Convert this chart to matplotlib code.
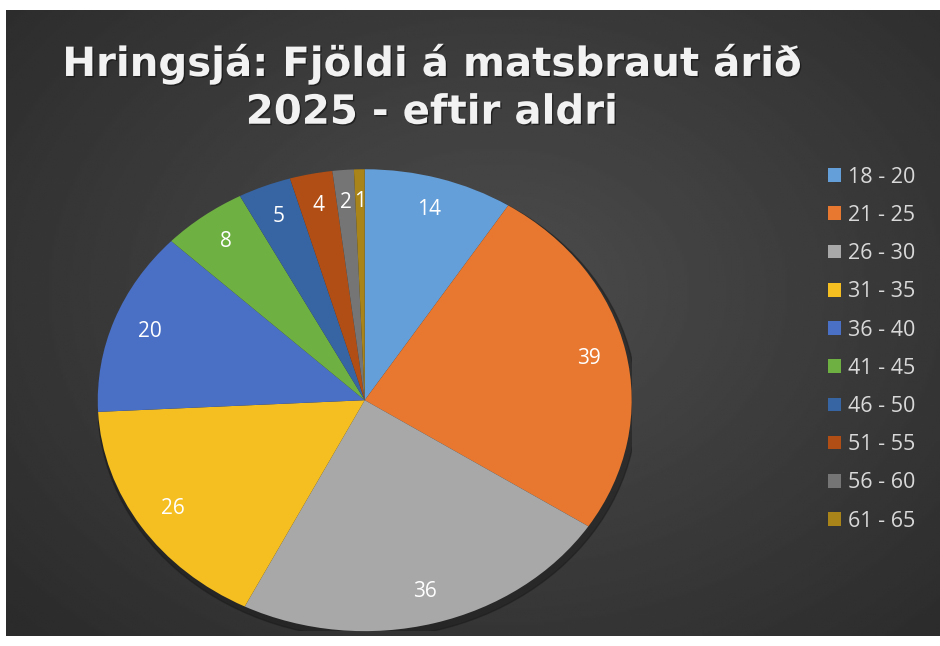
import matplotlib
matplotlib.use("Agg")
import matplotlib.pyplot as plt
import matplotlib.patheffects as pe
from matplotlib.patches import Patch, Ellipse
import numpy as np

# ---- data ----
age_groups = ["18 - 20", "21 - 25", "26 - 30", "31 - 35", "36 - 40",
              "41 - 45", "46 - 50", "51 - 55", "56 - 60", "61 - 65"]
counts = [14, 39, 36, 26, 20, 8, 5, 4, 2, 1]
colors = ["#659fd9", "#e8782f", "#a8a8a8", "#f5bf22", "#4a70c6",
          "#6fb043", "#3765a3", "#b04e15", "#757575", "#a98418"]
title = "Hringsjá: Fjöldi á matsbraut árið\n2025 - eftir aldri"

plt.rcParams["font.family"] = ["Open Sans", "DejaVu Sans"]

fig = plt.figure(figsize=(9.4, 6.46), dpi=100, facecolor="white")

# dark radial background
bg = fig.add_axes([6 / 940, 10 / 646, 1 - 6 / 940, 1 - 20 / 646])
yy, xx = np.mgrid[-1:1:300j, -1:1:400j]
rr = np.sqrt((xx - 0.05) ** 2 + ((yy + 0.1) * 0.9) ** 2)
bg.imshow(0.30 - 0.13 * np.clip(rr, 0, 1.4) / 1.4, cmap="gray", vmin=0, vmax=1,
          aspect="auto", extent=[0, 1, 0, 1], interpolation="bilinear")
bg.set_axis_off()

# title
fig.text(0.459, 0.864, title, ha="center", va="center", color="#f2f2f2",
         fontsize=29, fontweight="bold", linespacing=1.25, family="DejaVu Sans",
         path_effects=[pe.withSimplePatchShadow(offset=(1, -1), shadow_rgbFace="#111111", alpha=0.6)])

# pie (stretched to an ellipse like the original)
ax = fig.add_axes([0.104, 0.023, 0.568, 0.715])
ax.set_facecolor("none")
ax.add_patch(Ellipse((0.01, -0.02), 2.02, 2.02, color="#1a1a1a", alpha=0.5, zorder=0))
wedges, texts = ax.pie(counts, colors=colors, startangle=90, counterclock=False,
                       labels=[str(c) for c in counts], labeldistance=0.86,
                       wedgeprops=dict(linewidth=0),
                       textprops=dict(color="white", fontsize=15, ha="center", va="center"))
for w in wedges:
    w.set_zorder(2)
for t in texts:
    t.set_zorder(3)
ax.set_aspect("auto")
ax.set_xlim(-1, 1)
ax.set_ylim(-1, 1)
ax.set_axis_off()

# legend
handles = [Patch(facecolor=c, edgecolor="none") for c in colors]
fig.legend(handles, age_groups, loc="upper left", bbox_to_anchor=(0.86, 0.772),
           frameon=False, fontsize=15.5, labelcolor="#d9d9d9",
           handlelength=0.6, handleheight=0.6, handletextpad=0.35,
           labelspacing=0.8)

fig.savefig("out.png", dpi=100, facecolor="white")
